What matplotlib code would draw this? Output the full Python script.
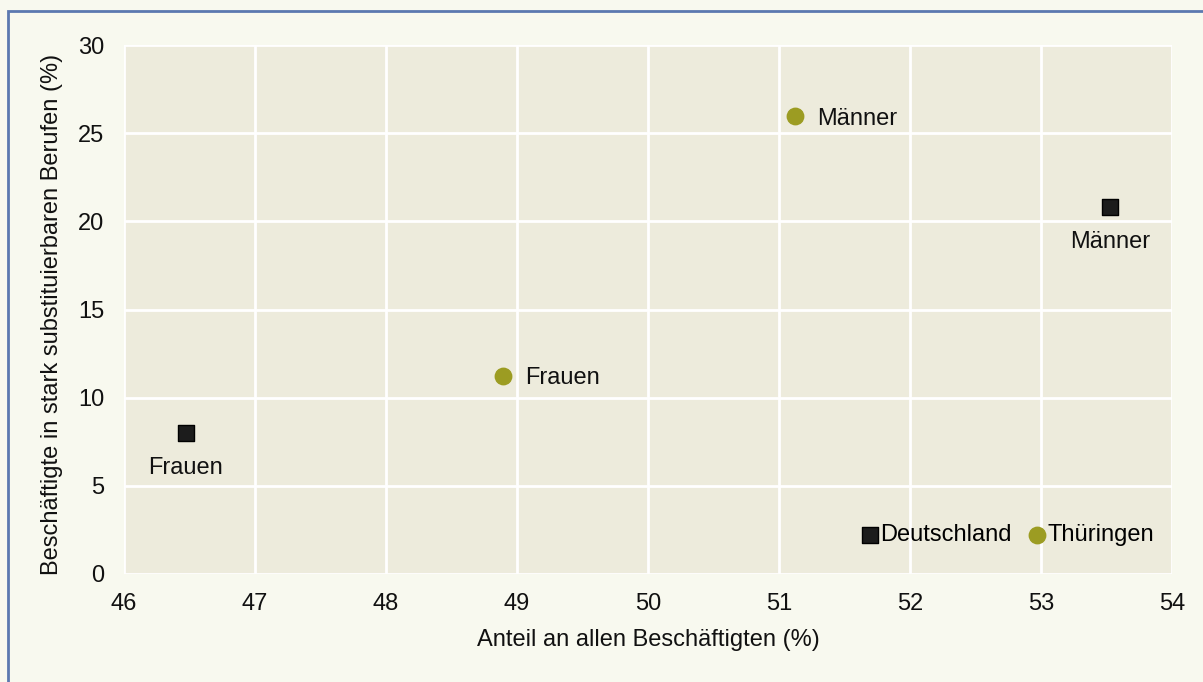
import matplotlib
matplotlib.use("Agg")
import matplotlib.pyplot as plt
from matplotlib.patches import Rectangle

plt.rcParams['font.family'] = ['Liberation Sans', 'DejaVu Sans']

# Data
groups = ["Deutschland", "Thüringen"]
de_labels = ["Frauen", "Männer"]
de_x = [46.47, 53.53]
de_y = [8.0, 20.8]
th_labels = ["Frauen", "Männer"]
th_x = [48.89, 51.12]
th_y = [11.25, 25.95]

xticks = [46, 47, 48, 49, 50, 51, 52, 53, 54]
yticks = [0, 5, 10, 15, 20, 25, 30]

W, H = 1203, 682
FS = 17
fig = plt.figure(figsize=(W / 100, H / 100), dpi=100)
fig.patch.set_facecolor("#f8f9ef")

# outer frame
fig.patches.append(Rectangle((8 / W, -0.05), 1.1, (H - 11) / H + 0.05,
                             transform=fig.transFigure, fill=False,
                             edgecolor="#5b79b0", linewidth=2.0))

ax = fig.add_axes([124 / W, 1 - 574 / H, (1172 - 124) / W, (574 - 45) / H])
ax.set_facecolor("#edebdc")
ax.set_xlim(46, 54)
ax.set_ylim(0, 30)
ax.set_xticks(xticks)
ax.set_yticks(yticks)
ax.grid(True, color="white", linewidth=2)
ax.set_axisbelow(True)
for s in ax.spines.values():
    s.set_visible(False)
ax.tick_params(length=0, labelsize=FS, colors="#111111")
ax.tick_params(axis="x", pad=14)
ax.tick_params(axis="y", pad=14)

olive = "#9c9c22"
ax.scatter(de_x, de_y, marker="s", s=120, color="#1c1c1c", edgecolor="#000000",
           linewidth=1, zorder=3, label=groups[0])
ax.scatter(th_x, th_y, marker="o", s=140, color=olive, edgecolor=olive,
           zorder=3, label=groups[1])

for x, y, t in zip(de_x, de_y, de_labels):
    ax.annotate(t, (x, y), xytext=(0, -17), textcoords="offset points",
                ha="center", va="top", fontsize=FS, color="#111111")
for x, y, t in zip(th_x, th_y, th_labels):
    ax.annotate(t, (x, y), xytext=(16, -2), textcoords="offset points",
                ha="left", va="center", fontsize=FS, color="#111111")

leg = ax.legend(loc="lower right", bbox_to_anchor=(1.003, 0.012), ncol=2,
                frameon=False, fontsize=FS, handletextpad=0.0,
                columnspacing=0.6, handlelength=0.9, markerscale=1.0)

ax.set_xlabel("Anteil an allen Beschäftigten (%)", fontsize=FS, color="#111111",
              labelpad=10)
ax.set_ylabel("Beschäftigte in stark substituierbaren Berufen (%)", fontsize=FS,
              color="#111111")
ax.yaxis.set_label_coords(-0.058, 0.49)

fig.savefig("out.png", dpi=100, facecolor=fig.get_facecolor())
